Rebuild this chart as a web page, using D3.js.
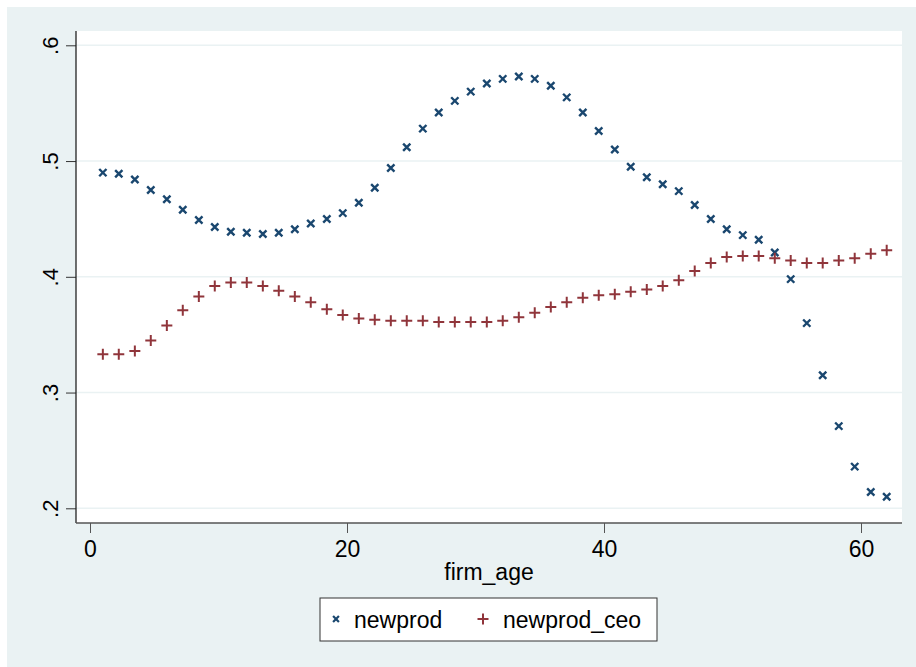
<!DOCTYPE html>
<html>

<head>
    <meta charset="utf-8" />
    <title>newprod by firm_age</title>
    <script src="https://d3js.org/d3.v7.min.js"></script>
    <style>
        body {
            margin: 0;
            background: #ffffff;
        }

        text {
            font-family: "Liberation Sans", Arial, sans-serif;
            fill: #000000;
        }
    </style>
</head>

<body>
    <div class="chart-container"></div>

    <script>
        // lpoly grid points for firm_age (50 points from 1 to 62)
        var firmAge = [1, 2.24, 3.49, 4.73, 5.98, 7.22, 8.47, 9.71, 10.96, 12.2,
            13.45, 14.69, 15.94, 17.18, 18.43, 19.67, 20.92, 22.16, 23.41, 24.65,
            25.9, 27.14, 28.39, 29.63, 30.88, 32.12, 33.37, 34.61, 35.86, 37.1,
            38.35, 39.59, 40.84, 42.08, 43.33, 44.57, 45.82, 47.06, 48.31, 49.55,
            50.8, 52.04, 53.29, 54.53, 55.78, 57.02, 58.27, 59.51, 60.76, 62];

        var newprod = [0.490, 0.489, 0.484, 0.475, 0.467, 0.458, 0.449, 0.443, 0.439, 0.438,
            0.437, 0.438, 0.441, 0.446, 0.450, 0.455, 0.464, 0.477, 0.494, 0.512,
            0.528, 0.542, 0.552, 0.560, 0.567, 0.571, 0.573, 0.571, 0.565, 0.555,
            0.542, 0.526, 0.510, 0.495, 0.486, 0.480, 0.474, 0.462, 0.450, 0.441,
            0.436, 0.432, 0.421, 0.398, 0.360, 0.315, 0.271, 0.236, 0.214, 0.210];

        var newprodCeo = [0.333, 0.333, 0.336, 0.345, 0.358, 0.371, 0.383, 0.392, 0.395, 0.395,
            0.392, 0.388, 0.383, 0.378, 0.372, 0.367, 0.364, 0.363, 0.362, 0.362,
            0.362, 0.361, 0.361, 0.361, 0.361, 0.362, 0.365, 0.369, 0.374, 0.378,
            0.382, 0.384, 0.385, 0.387, 0.389, 0.392, 0.397, 0.405, 0.412, 0.417,
            0.418, 0.418, 0.416, 0.414, 0.412, 0.412, 0.414, 0.416, 0.420, 0.423];

        var xTicks = [0, 20, 40, 60];
        var yTicks = [0.2, 0.3, 0.4, 0.5, 0.6];
        var yTickLabels = [".2", ".3", ".4", ".5", ".6"];
        var seriesNames = ["newprod", "newprod_ceo"];

        const w = 916;
        const h = 667;
        const navy = "#1a476f";
        const maroon = "#90353b";
        const bg = "#eaf2f3";
        const fontSize = 23;

        // plot region
        const plotLeft = 76, plotRight = 902, plotTop = 31, plotBottom = 523;

        let svg = d3.select('.chart-container')
            .append('svg')
            .attr('width', w)
            .attr('height', h);

        // outer graph region
        svg.append('rect')
            .attr('x', 7).attr('y', 7)
            .attr('width', w - 7).attr('height', h - 7)
            .attr('fill', bg);

        svg.append('rect')
            .attr('x', plotLeft).attr('y', plotTop)
            .attr('width', plotRight - plotLeft).attr('height', plotBottom - plotTop)
            .attr('fill', '#ffffff');

        let x = d3.scaleLinear().domain([0, 60]).range([90, 861]);
        let y = d3.scaleLinear().domain([0.2, 0.6]).range([508.3, 45.3]);

        // grid lines
        svg.selectAll('.grid')
            .data(yTicks)
            .enter()
            .append('line')
            .attr('x1', plotLeft).attr('x2', plotRight)
            .attr('y1', d => y(d)).attr('y2', d => y(d))
            .attr('stroke', bg)
            .attr('stroke-width', 1.5);

        // y axis
        let yAxis = d3.axisLeft(y)
            .tickValues(yTicks)
            .tickFormat((d, i) => yTickLabels[i])
            .tickSize(10);

        let gy = svg.append('g')
            .attr('transform', `translate(${plotLeft},0)`)
            .call(yAxis);
        gy.select('.domain').remove();
        gy.selectAll('.tick line').attr('stroke', '#333');
        gy.selectAll('.tick text')
            .attr('font-size', 22)
            .attr('text-anchor', 'middle')
            .attr('dy', 0)
            .attr('x', 0)
            .attr('y', 0)
            .attr('transform', 'translate(-26,0) rotate(-90)')
            .attr('dominant-baseline', 'central');
        svg.append('line')
            .attr('x1', plotLeft).attr('x2', plotLeft)
            .attr('y1', plotTop).attr('y2', plotBottom)
            .attr('stroke', '#222').attr('stroke-width', 1.3);

        // x axis
        let xAxis = d3.axisBottom(x)
            .tickValues(xTicks)
            .tickSize(10)
            .tickPadding(8);

        let gx = svg.append('g')
            .attr('transform', `translate(0,${plotBottom})`)
            .call(xAxis);
        gx.select('.domain').remove();
        gx.selectAll('.tick line').attr('stroke', '#555');
        gx.selectAll('.tick text').attr('font-size', fontSize);
        svg.append('line')
            .attr('x1', plotLeft).attr('x2', plotRight)
            .attr('y1', plotBottom).attr('y2', plotBottom)
            .attr('stroke', '#555').attr('stroke-width', 1.3);

        svg.append('text')
            .attr('x', 489).attr('y', 580)
            .attr('text-anchor', 'middle')
            .attr('font-size', fontSize)
            .text('firm_age');

        // markers
        const xSym = d3.symbol().type(d3.symbolX).size(36);

        function plusPath(s) {
            return `M${-s},0H${s}M0,${-s}V${s}`;
        }

        svg.selectAll('.np')
            .data(newprod)
            .enter()
            .append('path')
            .attr('d', xSym)
            .attr('transform', (d, i) => `translate(${x(firmAge[i])},${y(d)})`)
            .attr('fill', 'none')
            .attr('stroke', navy)
            .attr('stroke-width', 2.4);

        svg.selectAll('.npc')
            .data(newprodCeo)
            .enter()
            .append('path')
            .attr('d', plusPath(5.5))
            .attr('transform', (d, i) => `translate(${x(firmAge[i])},${y(d)})`)
            .attr('fill', 'none')
            .attr('stroke', maroon)
            .attr('stroke-width', 2);

        // legend
        let legend = svg.append('g');
        legend.append('rect')
            .attr('x', 320).attr('y', 598)
            .attr('width', 337).attr('height', 43)
            .attr('fill', '#ffffff')
            .attr('stroke', '#333')
            .attr('stroke-width', 1);

        legend.append('path')
            .attr('d', d3.symbol().type(d3.symbolX).size(24))
            .attr('transform', 'translate(336,619)')
            .attr('fill', 'none')
            .attr('stroke', navy)
            .attr('stroke-width', 2.2);
        legend.append('text')
            .attr('x', 354).attr('y', 628)
            .attr('font-size', fontSize)
            .text(seriesNames[0]);

        legend.append('path')
            .attr('d', plusPath(5.5))
            .attr('transform', 'translate(483,619)')
            .attr('fill', 'none')
            .attr('stroke', maroon)
            .attr('stroke-width', 2);
        legend.append('text')
            .attr('x', 503).attr('y', 628)
            .attr('font-size', fontSize)
            .text(seriesNames[1]);
    </script>
</body>

</html>
